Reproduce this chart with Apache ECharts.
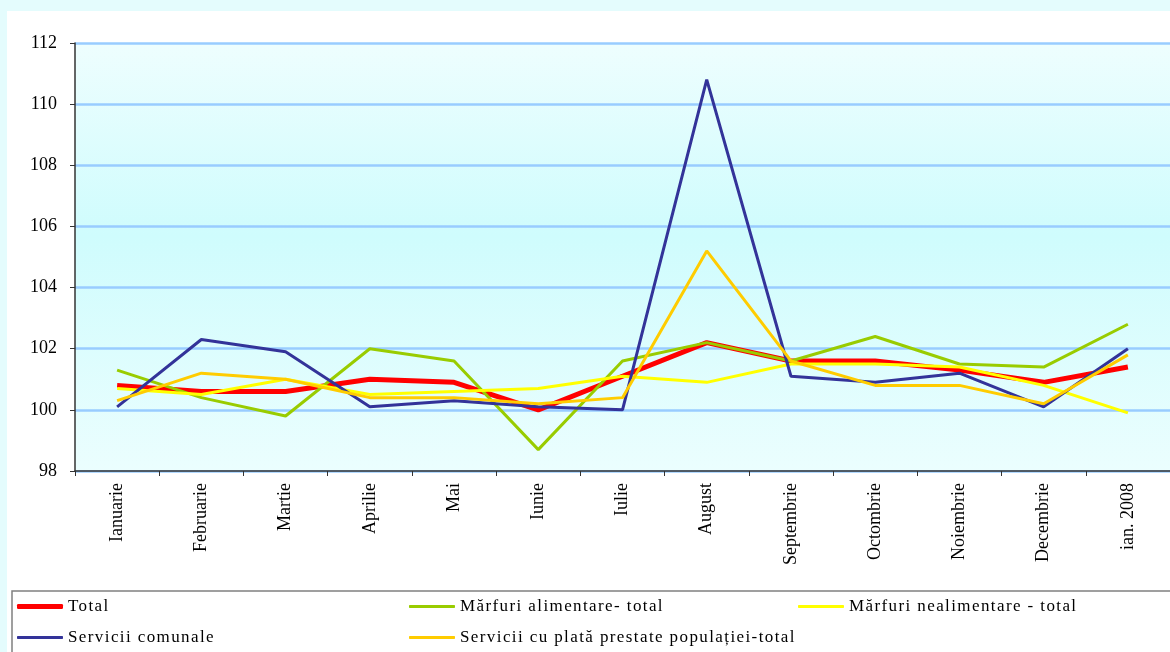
<!DOCTYPE html>
<html><head><meta charset="utf-8">
<script src="https://cdn.jsdelivr.net/npm/echarts@6/dist/echarts.min.js"></script>
<style>html,body{margin:0;padding:0;background:#e4fcfd;}#c{width:1170px;height:652px;}</style>
</head><body><div id="c"></div>
<script>
var categories = ['Ianuarie','Februarie','Martie','Aprilie','Mai','Iunie','Iulie','August','Septembrie','Octombrie','Noiembrie','Decembrie','ian. 2008'];
var total        = [100.8, 100.6, 100.6, 101.0, 100.9, 100.0, 101.1, 102.2, 101.6, 101.6, 101.3, 100.9, 101.4];
var alimentare   = [101.3, 100.4, 99.8, 102.0, 101.6, 98.7, 101.6, 102.2, 101.6, 102.4, 101.5, 101.4, 102.8];
var nealimentare = [100.7, 100.5, 101.0, 100.5, 100.6, 100.7, 101.1, 100.9, 101.5, 101.5, 101.4, 100.8, 99.9];
var comunale     = [100.1, 102.3, 101.9, 100.1, 100.3, 100.1, 100.0, 110.8, 101.1, 100.9, 101.2, 100.1, 102.0];
var cuPlata      = [100.3, 101.2, 101.0, 100.4, 100.4, 100.2, 100.4, 105.2, 101.6, 100.8, 100.8, 100.2, 101.8];
var seriesNames = ['Total','Mărfuri alimentare- total','Mărfuri nealimentare - total','Servicii comunale','Servicii cu plată prestate populației-total'];

// legend texts in the reference are letter-spaced
(function () {
  var orig = CanvasRenderingContext2D.prototype.fillText;
  CanvasRenderingContext2D.prototype.fillText = function (t, x, y, m) {
    if (seriesNames.indexOf(t) >= 0 && 'letterSpacing' in this) {
      var prev = this.letterSpacing;
      this.letterSpacing = '1.4px';
      var r = m === undefined ? orig.call(this, t, x, y) : orig.call(this, t, x, y, m);
      this.letterSpacing = prev;
      return r;
    }
    return orig.apply(this, arguments);
  };
})();

var font = 'Liberation Serif';
var chart = echarts.init(document.getElementById('c'));
function mkLegend(name, left, top, h) {
  return {
    data: [name], left: left, top: top, icon: 'roundRect', itemWidth: 46, itemHeight: h, itemGap: 0,
    itemStyle: {borderRadius: h / 2},
    padding: 0, textStyle: {fontFamily: font, fontSize: 17, color: '#000'},
    selectedMode: false
  };
}
chart.setOption({
  backgroundColor: '#e4fcfd',
  animation: false,
  graphic: [
    {type: 'rect', silent: true, z: -10, shape: {x: 7, y: 11, width: 1200, height: 700}, style: {fill: '#ffffff'}},
    {type: 'rect', silent: true, z: -9, shape: {x: 12, y: 591, width: 1200, height: 120}, style: {fill: '#ffffff', stroke: '#808080', lineWidth: 1.5}}
  ],
  grid: {left: 75, top: 43, width: 1099, height: 428, show: true, borderWidth: 0,
    backgroundColor: new echarts.graphic.LinearGradient(0, 0, 0, 1, [
      {offset: 0, color: '#eefefe'}, {offset: 0.45, color: '#cffcfd'}, {offset: 1, color: '#ebfefe'}])},
  legend: [
    mkLegend(seriesNames[0], 17, 598, 5),
    mkLegend(seriesNames[1], 409, 598, 3),
    mkLegend(seriesNames[2], 798, 598, 3),
    mkLegend(seriesNames[3], 17, 629, 3),
    mkLegend(seriesNames[4], 409, 629, 3)
  ],
  xAxis: {
    type: 'category', data: categories, boundaryGap: true,
    axisLine: {lineStyle: {color: '#333', width: 1.5}},
    axisTick: {show: true, length: 5, inside: false, alignWithLabel: false, lineStyle: {color: '#333'}},
    axisLabel: {rotate: 90, margin: 12, interval: 0, fontFamily: font, fontSize: 18, color: '#000'}
  },
  yAxis: {
    type: 'value', min: 98, max: 112, interval: 2,
    axisLine: {show: true, lineStyle: {color: '#333', width: 1.5}},
    axisTick: {show: true, length: 5, lineStyle: {color: '#333'}},
    axisLabel: {margin: 18, fontFamily: font, fontSize: 18, color: '#000'},
    splitLine: {show: true, lineStyle: {color: '#99ccff', width: 2.5}}
  },
  series: [
    {name: seriesNames[0], type: 'line', data: total, symbol: 'none', z: 5, lineStyle: {color: '#ff0000', width: 5}, itemStyle: {color: '#ff0000'}},
    {name: seriesNames[1], type: 'line', data: alimentare, symbol: 'none', z: 6, lineStyle: {color: '#99cc00', width: 3}, itemStyle: {color: '#99cc00'}},
    {name: seriesNames[2], type: 'line', data: nealimentare, symbol: 'none', z: 7, lineStyle: {color: '#ffff00', width: 3}, itemStyle: {color: '#ffff00'}},
    {name: seriesNames[3], type: 'line', data: comunale, symbol: 'none', z: 8, lineStyle: {color: '#333399', width: 3}, itemStyle: {color: '#333399'}},
    {name: seriesNames[4], type: 'line', data: cuPlata, symbol: 'none', z: 9, lineStyle: {color: '#ffcc00', width: 3}, itemStyle: {color: '#ffcc00'}}
  ]
});
</script></body></html>
